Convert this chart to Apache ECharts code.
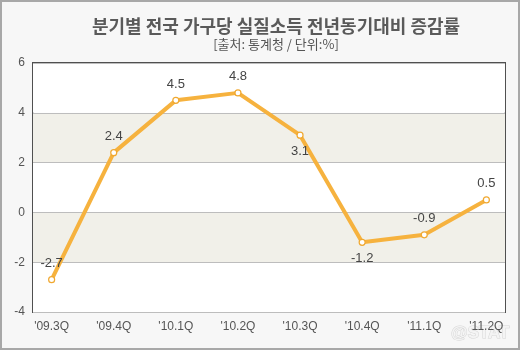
<!DOCTYPE html>
<html>
<head>
<meta charset="utf-8">
<script src="https://cdn.jsdelivr.net/npm/echarts@6/dist/echarts.min.js"></script>
<style>
  html, body { margin: 0; padding: 0; background: #f7f7f7; }
  #chart { width: 520px; height: 350px; box-sizing: border-box; border: 2px solid #a8a8a8; }
</style>
</head>
<body>
<div id="chart"></div>
<script>
// Quarterly year-on-year change in real household income (%)
const quarters = ["'09.3Q", "'09.4Q", "'10.1Q", "'10.2Q", "'10.3Q", "'10.4Q", "'11.1Q", "'11.2Q"];
const changeRate = [-2.7, 2.4, 4.5, 4.8, 3.1, -1.2, -0.9, 0.5];
const yTicks = [-4, -2, 0, 2, 4, 6];

const chart = echarts.init(document.getElementById('chart'), null, { renderer: 'canvas' });
const font = '"Noto Sans CJK KR", "Noto Sans", sans-serif';
const latin = '"Liberation Sans", Arial, sans-serif';

// Value labels sit under a point when the line has just fallen to it
const points = changeRate.map((v, i) => ({
  value: [i, v],
  label: { position: (i > 0 && v < changeRate[i - 1]) ? 'bottom' : 'top' }
}));

chart.setOption({
  backgroundColor: '#f7f7f7',
  animation: false,
  title: {
    text: '분기별 전국 가구당 실질소득 전년동기대비 증감률',
    subtext: '[출처: 통계청 / 단위:%]',
    left: 269, top: 10, textAlign: 'center', itemGap: 3,
    textStyle: { fontFamily: font, fontSize: 18, fontWeight: 'bold', color: '#5a5a5a' },
    subtextStyle: { fontFamily: font, fontSize: 13, color: '#555' }
  },
  grid: {
    left: 31, right: 13, top: 61, bottom: 36,
    show: true, borderColor: '#505050', borderWidth: 2, backgroundColor: '#fff'
  },
  xAxis: {
    type: 'value',
    min: -0.3, max: 7.3,
    axisLine: { show: false }, axisTick: { show: false }, splitLine: { show: false },
    axisLabel: {
      customValues: quarters.map((_, i) => i),
      formatter: v => quarters[Math.round(v)],
      color: '#555', fontSize: 12, fontFamily: latin, margin: 9
    }
  },
  yAxis: {
    type: 'value',
    min: yTicks[0], max: yTicks[yTicks.length - 1], interval: 2,
    axisLine: { show: false }, axisTick: { show: false },
    axisLabel: { color: '#555', fontSize: 12, fontFamily: latin, margin: 8 },
    splitLine: { show: true, lineStyle: { color: '#bdbdbd', width: 1 } },
    splitArea: { show: true, areaStyle: { color: ['#ffffff', '#f1f0e9'] } }
  },
  series: [{
    type: 'line',
    data: points,
    symbol: 'circle', symbolSize: 6,
    lineStyle: { color: '#f6b23e', width: 4 },
    itemStyle: { color: '#ffffff', borderColor: '#f0a830', borderWidth: 1.2 },
    label: {
      show: true, position: 'top', distance: 6,
      color: '#444', fontSize: 13, fontFamily: latin,
      formatter: p => p.value[1].toFixed(1)
    },
    z: 3
  }],
  graphic: [{
    type: 'text', right: 8, bottom: 6,
    style: {
      text: '@STAT', fontSize: 17, fontWeight: 'bold', fontFamily: latin,
      fill: '#f4f4f4', stroke: '#d6d6d6', lineWidth: 1
    }
  }]
});
</script>
</body>
</html>
